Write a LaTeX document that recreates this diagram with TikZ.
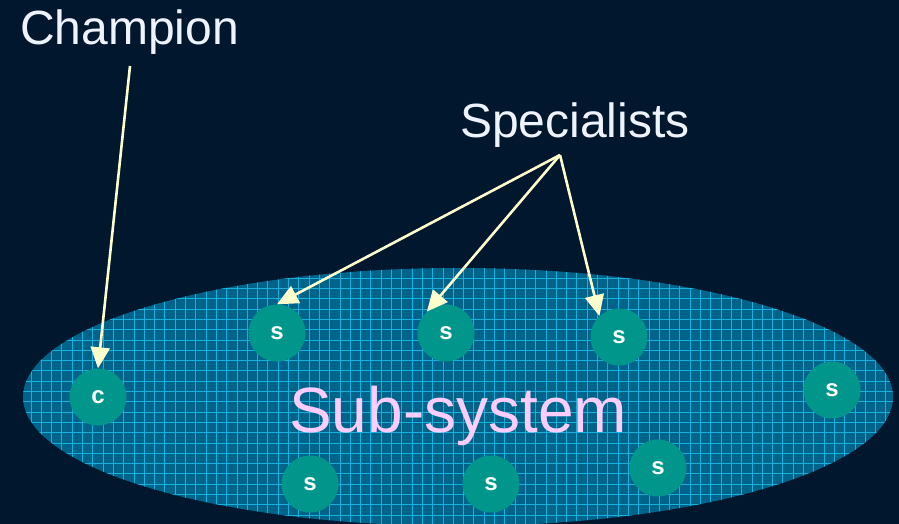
\documentclass[tikz,border=0pt]{standalone}
\usepackage{fontspec}
\setmainfont{Liberation Sans}
\usepackage{tikz}
\usetikzlibrary{arrows.meta}
\definecolor{night}{RGB}{1,23,45}
\definecolor{subfill}{RGB}{0,100,138}
\definecolor{subgrid}{RGB}{22,176,220}
\definecolor{member}{RGB}{0,150,140}
\definecolor{pointer}{RGB}{255,255,204}
\definecolor{subtext}{RGB}{255,204,255}
\definecolor{labeltext}{RGB}{238,244,255}
\tikzset{member/.style={draw=none, fill=member, shape=circle, minimum size=57pt, inner sep=0pt, text=white, font=\fontsize{24}{24}\selectfont\bfseries}}
\tikzset{pointer/.style={draw=pointer, line width=2.6pt, -{Triangle[length=21pt, width=19pt]}}}
\tikzset{caption/.style={inner sep=0pt, anchor=base west, text=labeltext, font=\fontsize{48}{48}\selectfont}}

\begin{document}
\begin{tikzpicture}[x=1pt, y=-1pt]
	% Background
	\fill[night] (0,0) rectangle (899,524);
	\useasboundingbox (0,0) rectangle (899,524);

	% Sub-system
	\begin{scope}
		\clip (458,397) ellipse [x radius=435, y radius=129];
		\fill[subfill] (0,260) rectangle (899,524);
		\draw[subgrid, line width=0.7pt, xstep=10.3pt, ystep=10.3pt] (0,260) grid (899,524);
	\end{scope}
	\node[inner sep=0pt, anchor=base west, text=subtext, font=\fontsize{64}{64}\selectfont] (subsys) at (289,432) {Sub-system};

	% Members
	\node[member] (champ) at (98,397) {c};
	\node[member] (spec1) at (277,333) {s};		\node[member] (spec2) at (446,333) {s};		\node[member] (spec3) at (619,337) {s};
	\node[member] (spec4) at (832,390) {s};
	\node[member] (spec5) at (310,484) {s};		\node[member] (spec6) at (491,484) {s};		\node[member] (spec7) at (658,468) {s};

	% Captions
	\node[caption] (champ text) at (20,45) {Champion};
	\node[caption] (spec text) at (460,138) {Specialists};
	\coordinate (champ from) at (130,66);
	\coordinate (spec from) at (560,155);

	% Pointers
	\draw[pointer] (champ from) -- (champ.90);
	\draw[pointer] (spec from) -- (spec1.90);
	\draw[pointer] (spec from) -- (spec2.132);
	\draw[pointer] (spec from) -- (spec3.133);
\end{tikzpicture}
\end{document}
